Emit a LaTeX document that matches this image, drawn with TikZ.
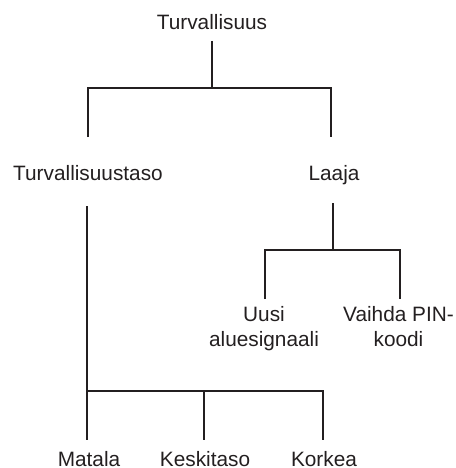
\documentclass[tikz,border=0pt]{standalone}
\usepackage{fontspec}
\setmainfont{Liberation Sans}
\definecolor{ink}{HTML}{231F20}
\begin{document}
\begin{tikzpicture}[x=1pt,y=-1pt,
  lbl/.style={anchor=base,inner sep=0pt,text=ink,font=\fontsize{20.8}{25}\selectfont,align=center},
  conn/.style={draw=ink,line width=2.3pt}]
\useasboundingbox (0,0) rectangle (455,468);
% nodes
\node[lbl] (root) at (212,30) {Turvallisuus};
\node[lbl] (taso) at (88,180) {Turvallisuustaso};
\node[lbl] (laaja) at (334,180) {Laaja};
\node[lbl] (uusi) at (264,346.7) {Uusi\\aluesignaali};
\node[lbl] (pin) at (398.5,346.7) {Vaihda PIN-\\koodi};
\node[lbl] (matala) at (89,466.3) {Matala};
\node[lbl] (keski) at (205,466.3) {Keskitaso};
\node[lbl] (korkea) at (324,466.3) {Korkea};
% connector points
\coordinate (r0) at (212,41);
\coordinate (r1) at (212,88);
\coordinate (rl) at (88,88);
\coordinate (rr) at (331,88);
\coordinate (tl) at (88,137);
\coordinate (tr) at (331,137);
\coordinate (s0) at (87,206);
\coordinate (s1) at (87,391);
\coordinate (s2) at (204,391);
\coordinate (s3) at (323,391);
\coordinate (m1) at (87,440);
\coordinate (m2) at (204,440);
\coordinate (m3) at (323,440);
\coordinate (l0) at (333,203);
\coordinate (l1) at (333,250);
\coordinate (ll) at (265,250);
\coordinate (lr) at (400,250);
\coordinate (u1) at (265,299);
\coordinate (p1) at (400,299);
% connectors
\draw[conn] (r0) -- (r1);
\draw[conn] (tl) -- (rl) -- (rr) -- (tr);
\draw[conn] (s0) -- (s1) -- (m1);
\draw[conn] (s1) -- (s3) -- (m3);
\draw[conn] (s2) -- (m2);
\draw[conn] (l0) -- (l1);
\draw[conn] (u1) -- (ll) -- (lr) -- (p1);
\end{tikzpicture}
\end{document}
